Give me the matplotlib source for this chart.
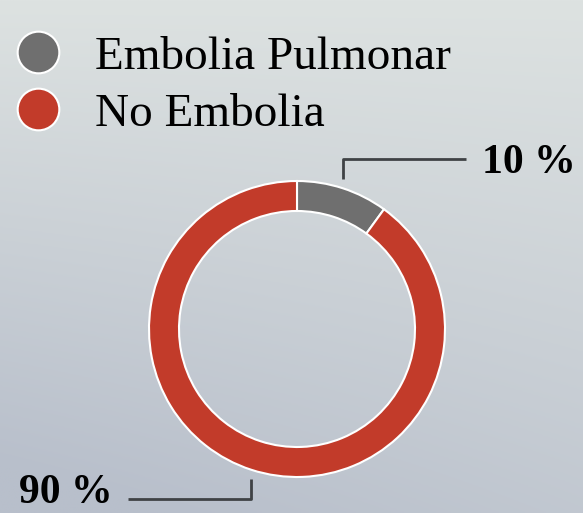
import numpy as np
import matplotlib.pyplot as plt
from matplotlib.lines import Line2D

# Data
labels = ["Embolia Pulmonar", "No Embolia"]
values = [10, 90]
pct_labels = ["10 %", "90 %"]
colors = ["#6f6f6f", "#c23b2a"]

W, H = 583, 513
fig = plt.figure(figsize=(W / 100, H / 100), dpi=100)

# background gradient
bg = fig.add_axes([0, 0, 1, 1], zorder=0)
yy, xx = np.mgrid[0:1:200j, 0:1:200j]
t = np.clip(0.75 * yy + 0.35 * (1 - xx) * yy, 0, 1)
top = np.array([221, 226, 225]) / 255
bot = np.array([184, 191, 203]) / 255
img = top[None, None, :] * (1 - t[..., None]) + bot[None, None, :] * t[..., None]
bg.imshow(img, aspect="auto", extent=[0, 1, 1, 0])
bg.axis("off")

ax = fig.add_axes([0, 0, 1, 1], zorder=1)
ax.set_facecolor("none")
cx, cy, r = 297, H - 329, 148
wedges, _ = ax.pie(values, colors=colors, startangle=90, counterclock=False,
                   center=(cx, cy), radius=r,
                   wedgeprops=dict(width=30, edgecolor="white", linewidth=1.5))
ax.set_xlim(0, W)
ax.set_ylim(0, H)
ax.set_aspect("equal")
ax.axis("off")

# leader lines + labels
for w, lab in zip(wedges, pct_labels):
    mid = np.deg2rad((w.theta1 + w.theta2) / 2)
    x0 = cx + r * np.cos(mid)
    sy = np.sign(np.sin(mid))
    sx = np.sign(np.cos(mid))
    y0 = cy + (r * abs(np.sin(mid)) + 9) * sy
    y1 = y0 + 20 * sy
    x1 = x0 + 123 * sx
    ax.plot([x0, x0, x1], [y0, y1, y1], color="#3f4245", lw=2, solid_capstyle="butt")
    ty = y1 - 4 if sy > 0 else y1 + 6
    ax.text(x1 + 16 * sx, ty, lab, ha="left" if sx > 0 else "right", va="center",
            fontsize=30, fontweight="bold", family="Liberation Serif", color="black")

handles = [Line2D([], [], marker="o", ls="", markersize=30, markerfacecolor=c,
                  markeredgecolor="white", markeredgewidth=1.5) for c in colors]
fig.legend(handles, labels, loc="upper left", bbox_to_anchor=(-0.048, 0.995),
           frameon=False, prop=dict(family="Liberation Serif", size=34),
           handletextpad=0.5, labelspacing=0.3, handlelength=1.4,
           borderaxespad=0.3)

fig.savefig("out.png", dpi=100)
